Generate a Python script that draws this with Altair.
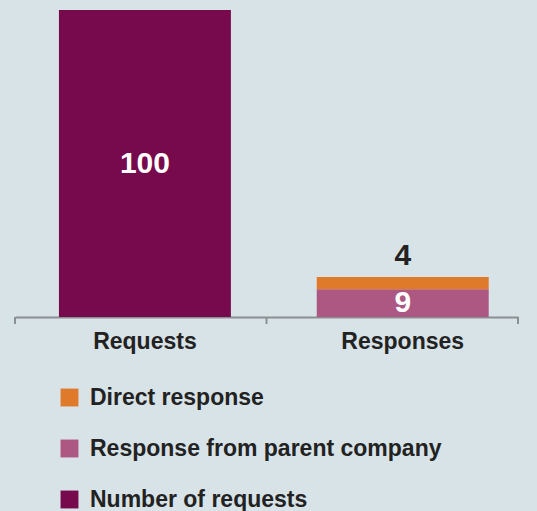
import altair as alt
import pandas as pd

categories = ["Requests", "Responses", "Responses"]
series = ["Number of requests", "Response from parent company", "Direct response"]
values = [100, 9, 4]
stack_order = [0, 0, 1]
legend_order = ["Direct response", "Response from parent company", "Number of requests"]
colors = ["#e07a2b", "#ad5783", "#770a4c"]
tick_positions = [0, 1, 2]

df = pd.DataFrame({"category": categories, "series": series, "value": values, "order": stack_order})

W, H = 503, 307
FONT = "Liberation Sans"

base = alt.Chart(df).transform_stack(
    stack="value", groupby=["category"], as_=["v0", "v1"], sort=[alt.SortField("order")]
).transform_calculate(mid="(datum.v0 + datum.v1) / 2")

x = alt.X(
    "category:N",
    scale=alt.Scale(paddingInner=0.333, paddingOuter=0.142, align=0.6),
    axis=alt.Axis(
        title=None, labelAngle=0, ticks=False, domain=True, domainColor="#8c8f92",
        domainWidth=2, labelFont=FONT, labelFontSize=23, labelFontWeight="bold",
        labelColor="#222222", labelPadding=13, grid=False,
    ),
)
yscale = alt.Scale(domain=[0, 100], nice=False, zero=True)

bars = base.mark_bar().encode(
    x=x,
    y=alt.Y("v0:Q", scale=yscale, axis=None),
    y2="v1:Q",
    color=alt.Color(
        "series:N",
        scale=alt.Scale(domain=legend_order, range=colors),
        legend=alt.Legend(
            title=None, orient="none", legendX=43, legendY=376, direction="vertical",
            symbolType="square", symbolSize=320, symbolStrokeWidth=0, symbolOpacity=1,
            labelFont=FONT, labelFontSize=23, labelFontWeight="bold", labelColor="#222222",
            labelOffset=9, rowPadding=27, labelLimit=500,
        ),
    ),
)

inside = base.transform_filter("datum.series != 'Direct response'").mark_text(
    font=FONT, fontSize=30, fontWeight="bold", color="white", baseline="middle"
).encode(x=x, y=alt.Y("mid:Q", scale=yscale, axis=None), text="value:Q")

outside = base.transform_filter("datum.series == 'Direct response'").mark_text(
    font=FONT, fontSize=30, fontWeight="bold", color="#222222", baseline="bottom", dy=-6
).encode(x=x, y=alt.Y("v1:Q", scale=yscale, axis=None), text="value:Q")

ticks = alt.Chart(pd.DataFrame({"t": tick_positions})).mark_rule(
    color="#8c8f92", strokeWidth=2
).encode(
    x=alt.X("t:Q", scale=alt.Scale(domain=[0, 2], nice=False), axis=None),
    y=alt.value(H),
    y2=alt.value(H + 7),
)

chart = alt.layer(alt.layer(bars, inside, outside), ticks).resolve_scale(x="independent").properties(
    width=W, height=H,
    autosize=alt.AutoSizeParams(type="none"),
    padding={"left": 15, "top": 10, "right": 19, "bottom": 194},
    background="#d8e3e8",
).configure_view(stroke=None)

chart.save("out.html", embed_options={"renderer": "svg", "actions": False})
